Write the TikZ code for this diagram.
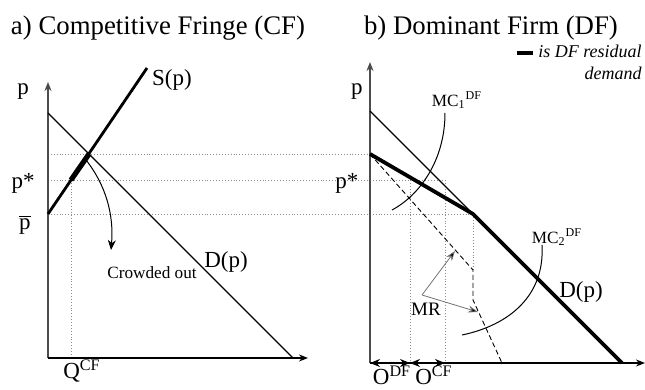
\documentclass[tikz,border=0pt]{standalone}
\usepackage{fontspec}
\setmainfont{Liberation Serif}
\usetikzlibrary{arrows.meta,positioning,calc}

\begin{document}
\begin{tikzpicture}[x=0.5pt,y=-0.5pt,>=Stealth,
  lbl/.style={inner sep=0pt,font=\fontsize{11.5}{13}\selectfont},
  ttl/.style={inner sep=0pt,font=\fontsize{13.4}{16}\selectfont},
  small/.style={inner sep=0pt,font=\fontsize{8.6}{10}\selectfont},
  legend/.style={inner sep=0pt,align=right,font=\fontsize{9}{11}\selectfont\itshape},
  axis/.style={draw=black,line width=0.8pt,-{Stealth[length=4.5pt,width=3.5pt]}},
  guide/.style={draw=black!45,densely dotted,line width=0.45pt},
  dline/.style={draw,line width=0.7pt},
  sline/.style={draw,line width=1.4pt},
  rline/.style={draw,line width=1.9pt},
  cline/.style={draw,line width=0.5pt},
  mr/.style={draw,line width=0.45pt,dash pattern=on 2.5pt off 1.5pt},
  span/.style={draw,line width=0.7pt,{Stealth[length=5pt,width=4pt]}-{Stealth[length=5pt,width=4pt]}},
  pointer/.style={draw=black!55,line width=0.4pt,-{Stealth[length=5pt,width=3.5pt,fill=black]}}]
\useasboundingbox (0,0) rectangle (645,390);
% a) competitive fringe
\coordinate (oa) at (48,358);\coordinate (ya) at (48,82);\coordinate (xa) at (308,358);
\coordinate (da) at (48,113);\coordinate (da2) at (293,358);
\coordinate (sa) at (48,214);\coordinate (sa2) at (147,68);
\coordinate (qa) at (71,180);\coordinate (ea) at (89,154);\coordinate (qa0) at (71,358);
\coordinate (co) at (111,250);
% b) dominant firm
\coordinate (ob) at (370,363);\coordinate (yb) at (370,62);\coordinate (xb) at (645,363);
\coordinate (db) at (370,111);\coordinate (kb) at (473,214);\coordinate (db2) at (622,363);
\coordinate (rb) at (370,154);
\coordinate (m1) at (473,270);\coordinate (m2) at (473,300);\coordinate (m3) at (502,363);
\coordinate (odf) at (410,363);\coordinate (ocf) at (445,363);
\coordinate (c1) at (445,113);\coordinate (c1e) at (392,210);
\coordinate (c2) at (542,245);\coordinate (c2e) at (462,335);
% guide lines
\draw[guide] (oa|-ea)--(rb);
\draw[guide] (oa|-qa)--(ocf|-qa);
\draw[guide] (sa)--(kb);
\draw[guide] (qa)--(qa0);
\draw[guide] (odf|-qa)--(odf);\draw[guide] (ocf|-qa)--(ocf);
\draw[guide] (kb)--(m1);
% axes
\draw[axis,draw=black!70,line width=1pt] (oa)--(ya);\draw[axis] (oa)--(xa);
\draw[axis,draw=black!70,line width=1pt] (ob)--(yb);\draw[axis] (ob)--(xb);
% curves a
\draw[dline] (da)--(da2);
\draw[sline] (sa)--(sa2);
\draw[line width=2.6pt] (qa)--(ea);
\draw[line width=1.4pt] (oa)--(qa0);
\draw[cline,-{Stealth[length=5pt,width=4pt]}] ($(qa)!0.8!(ea)$) .. controls (106,185) and (114,215) .. (co);
% curves b
\draw[dline] (db)--(kb);
\draw[rline] (rb)--(kb)--(db2);
\draw[mr] (rb)--(m1)--(m2)--(m3);
\draw[span] (ob)--(odf);\draw[span] (odf)--(ocf);
\draw[cline] (c1) .. controls (445,160) and (420,195) .. (c1e);
\draw[cline] (c2) .. controls (545,295) and (510,325) .. (c2e);
% labels
\node[ttl] (ta) at (158,28) {a) Competitive Fringe (CF)};
\node[ttl] (tb) at (491,28) {b) Dominant Firm (DF)};
\node[lbl] (pa) at (23,92) {p};
\node[lbl] (psa) at (23,183) {p*};
\node[lbl] (pba) at (25,225) {$\overline{\mbox{p}}$};
\node[lbl] (sl) at (172,80) {S(p)};
\node[lbl] (dla) at (226,262) {D(p)};
\node[small] (crowd) at (152,273) {Crowded out};
\node[lbl,anchor=base] (qcf) at (82,379) {Q\textsuperscript{CF}};
\node[lbl] (pb) at (357,92) {p};
\node[lbl] (psb) at (347,183) {p*};
\node[lbl] (dlb) at (581,292) {D(p)};
\node[small] (mc1) at (457,100) {MC\textsubscript{1}\textsuperscript{DF}};
\node[small] (mc2) at (557,237) {MC\textsubscript{2}\textsuperscript{DF}};
\node[lbl,font=\fontsize{9.5}{11}\selectfont] (mrl) at (426,309) {MR};
\node[lbl,anchor=base] (odfl) at (392,385) {O\textsuperscript{DF}};
\node[lbl,anchor=base] (ocfl) at (434,385) {O\textsuperscript{CF}};
\coordinate (mrp) at (422,295);\coordinate (mra) at (455,251);\coordinate (mrb) at (478,312);
\draw[pointer] (mrp)--(mra);\draw[pointer] (mrp)--(mrb);
% legend
\coordinate (lg1) at (517,53);\coordinate (lg2) at (533,53);
\draw[line width=2pt] (lg1)--(lg2);
\node[legend,anchor=north west] (lgt) at (538,45) {is DF residual\\demand};
\end{tikzpicture}
\end{document}
